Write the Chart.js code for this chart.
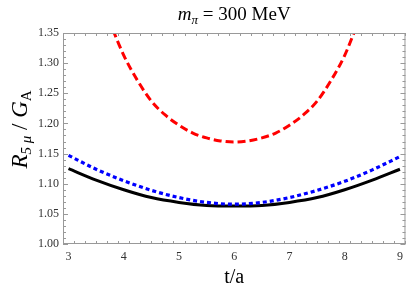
<!DOCTYPE html>
<html lang="en">
  <head>
    <meta charset="UTF-8" />
    <script src="https://cdn.jsdelivr.net/npm/chart.js@4.4.1/dist/chart.umd.min.js"></script>
    <title>R5mu / GA at m_pi = 300 MeV</title>
    <style>
      html, body { margin: 0; padding: 0; background: #fff; }
      #wrap { width: 409px; height: 293px; }
    </style>
  </head>
  <body>
    <div id="wrap"><canvas id="myChart"></canvas></div>

    <script>
      // t/a grid for the two lower curves
      const tVals = [3, 3.5, 4, 4.5, 5, 5.5, 6, 6.5, 7, 7.5, 8, 8.5, 9];
      const blackVals = [1.125, 1.106, 1.090, 1.077, 1.069, 1.064, 1.063, 1.064, 1.069, 1.077, 1.090, 1.106, 1.124];
      const blueVals = [1.147, 1.124, 1.105, 1.089, 1.077, 1.069, 1.066, 1.069, 1.077, 1.089, 1.104, 1.123, 1.145];
      // red curve leaves the frame at the top, so it has its own grid
      const redT = [3.5, 3.75, 4, 4.25, 4.5, 4.75, 5, 5.25, 5.5, 5.75, 6, 6.25, 6.5, 6.75, 7, 7.25, 7.5, 7.75, 8, 8.25, 8.5];
      const redVals = [1.43, 1.368, 1.313, 1.271, 1.237, 1.214, 1.197, 1.184, 1.176, 1.171, 1.169, 1.171, 1.176, 1.184, 1.197, 1.214, 1.237, 1.271, 1.313, 1.37, 1.43];
      const xTicks = [3, 4, 5, 6, 7, 8, 9];
      const yTicks = [1.0, 1.05, 1.1, 1.15, 1.2, 1.25, 1.3, 1.35];

      const pts = (xs, ys) => xs.map((x, i) => ({ x: x, y: ys[i] }));

      // Mathematica style frame: gray box with inward ticks on all sides
      const frame = {
        id: "frame",
        afterDatasetsDraw(chart) {
          const { ctx, chartArea: a, scales } = chart;
          const sx = scales.x, sy = scales.y;
          ctx.save();
          ctx.strokeStyle = "#999";
          ctx.lineWidth = 1;
          ctx.strokeRect(a.left + 0.5, a.top + 0.5, a.right - a.left - 1, a.bottom - a.top - 1);
          ctx.beginPath();
          for (let i = 0; i <= 31; i++) {
            const v = 2.9 + i * 0.2;
            if (v > 9.1) break;
            const px = Math.round(sx.getPixelForValue(v)) + 0.5;
            const major = Math.abs(v - Math.round(v)) < 1e-6;
            const len = major ? 5 : 3;
            ctx.moveTo(px, a.bottom); ctx.lineTo(px, a.bottom - len);
            ctx.moveTo(px, a.top); ctx.lineTo(px, a.top + len);
          }
          for (let i = 0; i <= 35; i++) {
            const v = 1.0 + i * 0.01;
            const py = Math.round(sy.getPixelForValue(v)) + 0.5;
            const major = i % 5 === 0;
            const len = major ? 5 : 3;
            ctx.moveTo(a.left, py); ctx.lineTo(a.left + len, py);
            ctx.moveTo(a.right, py); ctx.lineTo(a.right - len, py);
          }
          ctx.stroke();
          ctx.restore();
        },
        afterDraw(chart) {
          const { ctx, chartArea: a } = chart;
          const cx = (a.left + a.right) / 2;
          ctx.save();
          ctx.fillStyle = "#000";
          ctx.textBaseline = "alphabetic";
          // title  m_pi = 300 MeV
          const fBig = "italic 19px 'Liberation Serif'";
          const fSub = "italic 13px 'Liberation Serif'";
          const fReg = "19px 'Liberation Serif'";
          const parts = [["m", fBig, 0], ["π", fSub, 4], [" = 300 MeV", fReg, 0]];
          let w = 0;
          parts.forEach((p) => { ctx.font = p[1]; w += ctx.measureText(p[0]).width; });
          let x = cx - w / 2;
          parts.forEach((p) => {
            ctx.font = p[1];
            ctx.fillText(p[0], x, 20 + p[2]);
            x += ctx.measureText(p[0]).width;
          });
          // x label
          ctx.font = "20px 'Liberation Serif'";
          ctx.textAlign = "center";
          ctx.fillText("t/a", cx, 283);
          // y label  R_{5 mu} / G_A
          ctx.textAlign = "left";
          const yparts = [
            ["R", "italic 23px 'Liberation Serif'", 0],
            ["5 μ", "italic 15px 'Liberation Serif'", 4],
            [" / ", "23px 'Liberation Serif'", 0],
            ["G", "italic 23px 'Liberation Serif'", 0],
            ["A", "15px 'Liberation Serif'", 4],
          ];
          let wy = 0;
          yparts.forEach((p) => { ctx.font = p[1]; wy += ctx.measureText(p[0]).width; });
          ctx.translate(27, (a.top + a.bottom) / 2 - 9);
          ctx.rotate(-Math.PI / 2);
          let xx = -wy / 2;
          yparts.forEach((p) => {
            ctx.font = p[1];
            ctx.fillText(p[0], xx, p[2]);
            xx += ctx.measureText(p[0]).width;
          });
          ctx.restore();
        },
      };

      const ctx = document.getElementById("myChart").getContext("2d");
      const myChart = new Chart(ctx, {
        type: "line",
        data: {
          datasets: [
            {
              label: "blue",
              data: pts(tVals, blueVals),
              borderColor: "#0000ff",
              borderWidth: 3.2,
              borderDash: [4, 3],
              pointRadius: 0,
              cubicInterpolationMode: "monotone",
              clip: 0,
            },
            {
              label: "black",
              data: pts(tVals, blackVals),
              borderColor: "#000000",
              borderWidth: 3,
              pointRadius: 0,
              cubicInterpolationMode: "monotone",
              clip: 0,
            },
            {
              label: "red",
              data: pts(redT, redVals),
              borderColor: "#ff0000",
              borderWidth: 3,
              borderDash: [8, 4],
              pointRadius: 0,
              cubicInterpolationMode: "monotone",
              clip: 0,
            },
          ],
        },
        options: {
          responsive: true,
          maintainAspectRatio: false,
          animation: false,
          layout: { padding: { top: 33, right: 3, left: 0, bottom: 0 } },
          plugins: { legend: { display: false }, tooltip: { enabled: false } },
          scales: {
            x: {
              type: "linear",
              min: 2.9,
              max: 9.1,
              afterBuildTicks: (s) => { s.ticks = xTicks.map((v) => ({ value: v })); },
              afterFit: (s) => { s.height = 49; },
              grid: { display: false, drawTicks: false },
              border: { display: false },
              ticks: {
                padding: 6,
                maxRotation: 0,
                color: "#333",
                font: { family: "'Liberation Serif'", size: 12 },
              },
            },
            y: {
              min: 1.0,
              max: 1.35,
              afterBuildTicks: (s) => { s.ticks = yTicks.map((v) => ({ value: v })); },
              afterFit: (s) => { s.width = 63; },
              grid: { display: false, drawTicks: false },
              border: { display: false },
              ticks: {
                padding: 4,
                color: "#333",
                font: { family: "'Liberation Serif'", size: 12 },
                callback: (v) => Number(v).toFixed(2),
              },
            },
          },
        },
        plugins: [frame],
      });
    </script>
  </body>
</html>
